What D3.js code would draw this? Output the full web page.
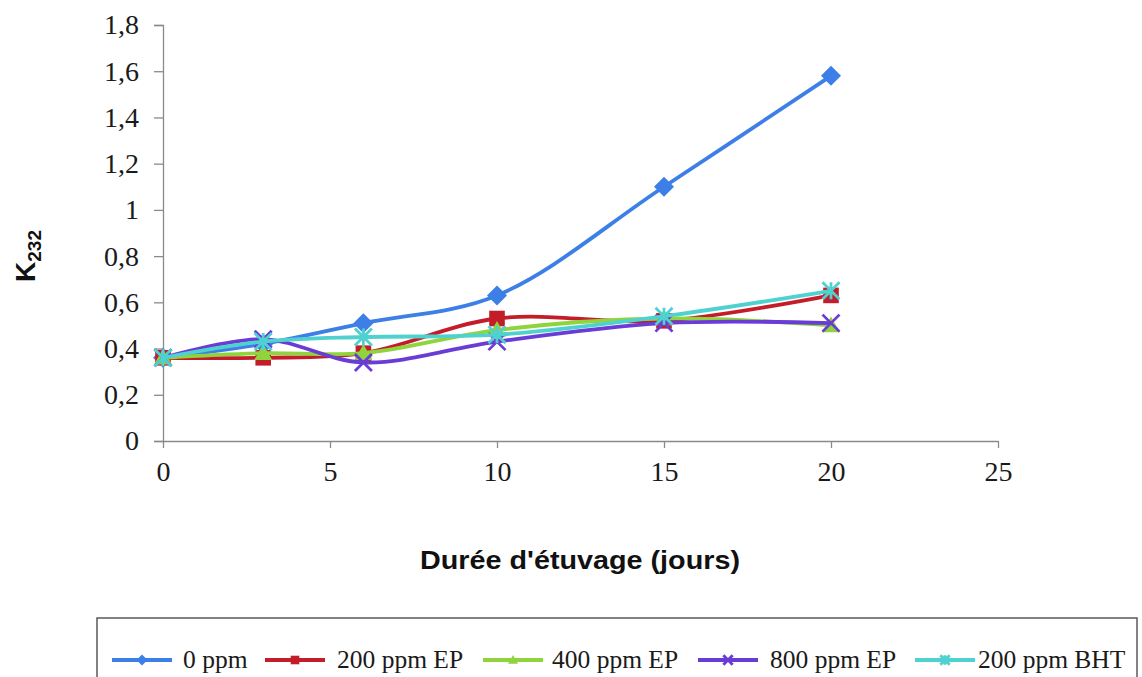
<!DOCTYPE html>
<html>
<head>
<meta charset="utf-8">
<script src="https://cdn.jsdelivr.net/npm/d3@7"></script>
<style>
  html, body { margin: 0; padding: 0; background: #fff; }
  svg { display: block; }
</style>
</head>
<body>
<svg id="chart" width="1142" height="677"></svg>
<script>
// Durée d'étuvage (jours) and K232 values per treatment
const days = [0, 3, 6, 10, 15, 20];
const ppm0 = [0.36, 0.42, 0.51, 0.63, 1.10, 1.58];
const ep200 = [0.36, 0.36, 0.38, 0.53, 0.52, 0.63];
const ep400 = [0.36, 0.38, 0.38, 0.48, 0.53, 0.50];
const ep800 = [0.36, 0.44, 0.34, 0.43, 0.51, 0.51];
const bht200 = [0.36, 0.43, 0.45, 0.46, 0.54, 0.65];

const seriesNames = ["0 ppm", "200 ppm EP", "400 ppm EP", "800 ppm EP", "200 ppm BHT"];
const seriesValues = [ppm0, ep200, ep400, ep800, bht200];
const seriesColors = ["#3c7fe6", "#c41d2a", "#8fd43c", "#6a3cd6", "#4fd2cf"];
const seriesMarkers = ["diamond", "square", "triangle", "x", "star"];

const xTicks = [0, 5, 10, 15, 20, 25];
const yTicks = [0, 0.2, 0.4, 0.6, 0.8, 1, 1.2, 1.4, 1.6, 1.8];

const svg = d3.select("#chart");

const x = d3.scaleLinear().domain([0, 25]).range([163, 998]);
const y = d3.scaleLinear().domain([0, 1.8]).range([441, 25]);

const fmt = v => String(+v.toFixed(1)).replace(".", ",");
const serif = "'Liberation Serif', 'Times New Roman', serif";

// Y axis
const yAxis = svg.append("g")
  .attr("transform", `translate(${x(0)},0)`)
  .call(d3.axisLeft(y).tickValues(yTicks).tickFormat(fmt).tickSize(9).tickPadding(15));
yAxis.select(".domain").attr("stroke", "#8a8a8a").attr("stroke-width", 1.3);
yAxis.selectAll(".tick line").attr("stroke", "#8a8a8a").attr("stroke-width", 1.3);
yAxis.selectAll(".tick text")
  .attr("font-family", serif)
  .attr("font-size", 28).attr("fill", "#1a1a1a");

// X axis
const xAxis = svg.append("g")
  .attr("transform", `translate(0,${y(0)})`)
  .call(d3.axisBottom(x).tickValues(xTicks).tickFormat(d => d).tickSize(7).tickSizeOuter(0).tickPadding(13));
xAxis.select(".domain").attr("stroke", "#8a8a8a").attr("stroke-width", 1.3);
xAxis.selectAll(".tick line").attr("stroke", "#8a8a8a").attr("stroke-width", 1.3);
xAxis.selectAll(".tick text")
  .attr("font-family", serif)
  .attr("font-size", 28).attr("fill", "#1a1a1a");

// Axis titles
svg.append("text")
  .attr("x", 580).attr("y", 569)
  .attr("text-anchor", "middle")
  .attr("font-family", "'Liberation Sans', Arial, sans-serif")
  .attr("font-weight", "bold").attr("font-size", 26)
  .attr("textLength", 320).attr("lengthAdjust", "spacingAndGlyphs")
  .attr("fill", "#111")
  .text("Durée d'étuvage (jours)");

const yt = svg.append("text")
  .attr("transform", "translate(35,256) rotate(-90)")
  .attr("text-anchor", "middle")
  .attr("font-family", "'Liberation Sans', Arial, sans-serif")
  .attr("font-weight", "bold").attr("fill", "#111");
yt.append("tspan").attr("font-size", 28).text("K");
yt.append("tspan").attr("font-size", 19).attr("dy", 6).text("232");

// Marker shapes
function drawMarker(g, type, cx, cy, color, s) {
  if (type === "diamond") {
    g.append("path")
      .attr("d", `M${cx},${cy - s}L${cx + s},${cy}L${cx},${cy + s}L${cx - s},${cy}Z`)
      .attr("fill", color);
  } else if (type === "square") {
    const h = s * 0.78;
    g.append("rect").attr("x", cx - h).attr("y", cy - h)
      .attr("width", 2 * h).attr("height", 2 * h).attr("fill", color);
  } else if (type === "triangle") {
    const h = s * 0.9;
    g.append("path")
      .attr("d", `M${cx},${cy - h}L${cx + h},${cy + h * 0.75}L${cx - h},${cy + h * 0.75}Z`)
      .attr("fill", color);
  } else if (type === "x") {
    const h = s * 0.85;
    g.append("path")
      .attr("d", `M${cx - h},${cy - h}L${cx + h},${cy + h}M${cx - h},${cy + h}L${cx + h},${cy - h}`)
      .attr("stroke", color).attr("stroke-width", 2.8).attr("fill", "none");
  } else if (type === "star") {
    const h = s * 0.85;
    g.append("path")
      .attr("d", `M${cx - h},${cy - h}L${cx + h},${cy + h}M${cx - h},${cy + h}L${cx + h},${cy - h}M${cx},${cy - h}L${cx},${cy + h}`)
      .attr("stroke", color).attr("stroke-width", 2.8).attr("fill", "none");
  }
}

// Series: smoothed lines with markers
const line = d3.line()
  .x((d, i) => x(days[i]))
  .y(d => y(d))
  .curve(d3.curveCatmullRom.alpha(0.5));

const plot = svg.append("g");
seriesValues.forEach((vals, k) => {
  const g = plot.append("g");
  g.append("path")
    .datum(vals)
    .attr("d", line)
    .attr("fill", "none")
    .attr("stroke", seriesColors[k])
    .attr("stroke-width", 3.8)
    .attr("stroke-linejoin", "round");
  vals.forEach((v, i) => drawMarker(g, seriesMarkers[k], x(days[i]), y(v), seriesColors[k], 10));
});

// Legend
const legend = svg.append("g");
legend.append("rect")
  .attr("x", 97).attr("y", 618).attr("width", 1040).attr("height", 80)
  .attr("fill", "#fff").attr("stroke", "#5a5a5a").attr("stroke-width", 1.5);

const legendLineStart = [112, 265, 483, 698, 915];
const legendTextStart = [183, 337, 552, 770, 978];
seriesNames.forEach((name, k) => {
  const cy = 660;
  const x0 = legendLineStart[k];
  const gi = legend.append("g");
  gi.append("line").attr("x1", x0).attr("x2", x0 + 60).attr("y1", cy).attr("y2", cy)
    .attr("stroke", seriesColors[k]).attr("stroke-width", 3.8);
  drawMarker(gi, seriesMarkers[k], x0 + 30, cy, seriesColors[k], 5.5);
  gi.append("text")
    .attr("x", legendTextStart[k]).attr("y", cy + 8)
    .attr("font-family", serif)
    .attr("font-size", 25.5).attr("fill", "#1a1a1a")
    .text(name);
});
</script>
</body>
</html>
